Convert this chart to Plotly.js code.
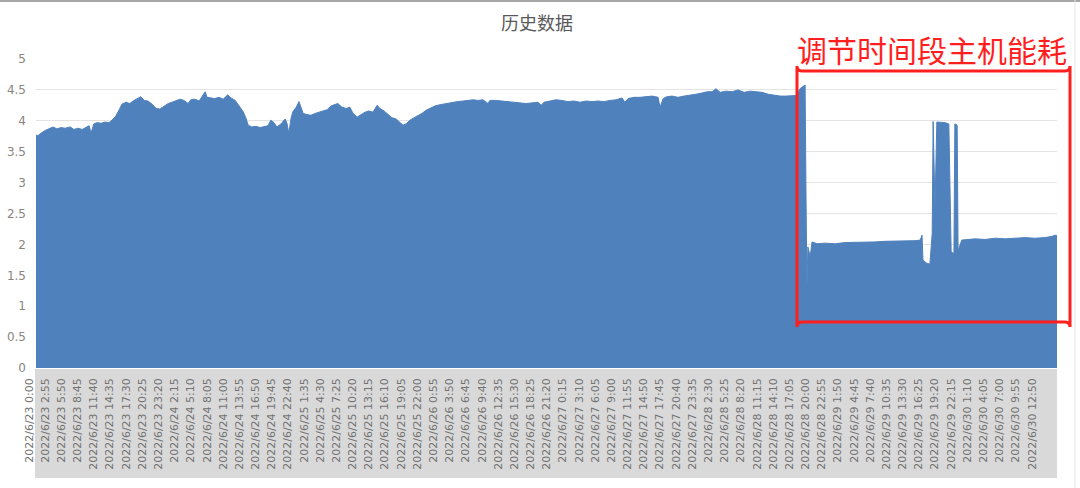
<!DOCTYPE html>
<html>
<head>
<meta charset="utf-8">
<script src="https://cdn.plot.ly/plotly-3.0.1.min.js"></script>
<style>html,body{margin:0;padding:0;background:#fff;}#chart{width:1080px;height:488px;}</style>
</head>
<body>
<div id="chart"></div>
<script>
// Tick labels (one every 35 samples of 5 minutes)
const tickLabels = [
"2022/6/23 0:00","2022/6/23 2:55","2022/6/23 5:50","2022/6/23 8:45","2022/6/23 11:40","2022/6/23 14:35","2022/6/23 17:30","2022/6/23 20:25","2022/6/23 23:20",
"2022/6/24 2:15","2022/6/24 5:10","2022/6/24 8:05","2022/6/24 11:00","2022/6/24 13:55","2022/6/24 16:50","2022/6/24 19:45","2022/6/24 22:40",
"2022/6/25 1:35","2022/6/25 4:30","2022/6/25 7:25","2022/6/25 10:20","2022/6/25 13:15","2022/6/25 16:10","2022/6/25 19:05","2022/6/25 22:00",
"2022/6/26 0:55","2022/6/26 3:50","2022/6/26 6:45","2022/6/26 9:40","2022/6/26 12:35","2022/6/26 15:30","2022/6/26 18:25","2022/6/26 21:20",
"2022/6/27 0:15","2022/6/27 3:10","2022/6/27 6:05","2022/6/27 9:00","2022/6/27 11:55","2022/6/27 14:50","2022/6/27 17:45","2022/6/27 20:40","2022/6/27 23:35",
"2022/6/28 2:30","2022/6/28 5:25","2022/6/28 8:20","2022/6/28 11:15","2022/6/28 14:10","2022/6/28 17:05","2022/6/28 20:00","2022/6/28 22:55",
"2022/6/29 1:50","2022/6/29 4:45","2022/6/29 7:40","2022/6/29 10:35","2022/6/29 13:30","2022/6/29 16:25","2022/6/29 19:20","2022/6/29 22:15",
"2022/6/30 1:10","2022/6/30 4:05","2022/6/30 7:00","2022/6/30 9:55","2022/6/30 12:50"
];
const LABEL_STEP = 35;   // samples between labels
const LAST_SAMPLE = 2209;

// Sample number (5-minute steps since 2022/6/23 0:00) and host power
const sampleIdx = [
0,4,11,19,28,37,45,54,63,74,82,91,100,108,115,119,125,132,141,149,158,167,173,180,186,195,203,212,221,227,234,242,251,260,268,277,286,294,303,312,320,329,335,344,353,361,366,370,379,387,396,405,415,422,431,439,448,454,459,467,476,485,493,502,508,515,521,530,539,543,547,552,556,563,569,573,578,586,595,604,612,621,630,638,645,653,662,671,679,686,695,703,712,720,729,738,744,753,762,770,779,788,794,801,809,818,826,835,844,852,863,874,887,900,911,924,935,946,956,967,978,982,995,1008,1021,1034,1047,1060,1073,1086,1093,1099,1112,1125,1138,1151,1164,1177,1190,1203,1216,1229,1242,1255,1268,1274,1281,1294,1307,1320,1333,1346,1350,1357,1365,1376,1389,1402,1415,1428,1441,1452,1463,1471,1480,1493,1506,1519,1532,1545,1558,1571,1584,1597,1610,1623,1636,1646,1653,1659,1664,1666,1668,1670,1675,1679,1690,1707,1729,1750,1772,1794,1815,1837,1859,1880,1902,1913,1917,1919,1926,1934,1939,1941,1945,1949,1958,1967,1975,1980,1986,1988,1993,1995,2003,2014,2032,2053,2075,2097,2118,2140,2161,2183,2198,2205,2209
];
const power = [
3.77,3.76,3.80,3.84,3.87,3.90,3.87,3.89,3.88,3.90,3.86,3.88,3.86,3.89,3.92,3.80,3.95,3.97,3.96,3.98,3.97,4.03,4.08,4.18,4.27,4.30,4.28,4.33,4.36,4.39,4.33,4.32,4.27,4.20,4.19,4.24,4.28,4.30,4.33,4.35,4.33,4.28,4.34,4.35,4.32,4.40,4.47,4.38,4.37,4.36,4.38,4.35,4.42,4.37,4.33,4.25,4.15,4.05,3.93,3.90,3.91,3.89,3.90,3.92,4.01,3.97,3.90,3.95,4.03,3.96,3.80,4.05,4.15,4.22,4.31,4.22,4.12,4.10,4.09,4.12,4.14,4.16,4.18,4.24,4.26,4.28,4.22,4.20,4.22,4.12,4.06,4.10,4.14,4.16,4.14,4.25,4.20,4.16,4.10,4.05,4.03,3.97,3.93,3.95,4.01,4.05,4.08,4.12,4.17,4.20,4.24,4.26,4.28,4.30,4.31,4.32,4.33,4.34,4.33,4.34,4.28,4.33,4.33,4.32,4.32,4.31,4.30,4.28,4.29,4.30,4.25,4.30,4.32,4.34,4.33,4.31,4.32,4.30,4.32,4.31,4.32,4.31,4.33,4.34,4.37,4.30,4.36,4.38,4.38,4.39,4.40,4.38,4.22,4.36,4.39,4.40,4.38,4.40,4.41,4.43,4.45,4.47,4.47,4.52,4.46,4.48,4.47,4.50,4.46,4.48,4.47,4.46,4.43,4.41,4.40,4.40,4.40,4.41,4.52,4.56,4.58,2.75,1.31,1.96,1.80,2.04,2.01,2.02,2.01,2.03,2.03,2.04,2.04,2.05,2.05,2.06,2.06,2.07,2.15,1.75,1.70,1.68,2.18,3.99,2.60,3.98,3.98,3.97,3.95,1.88,1.85,3.95,3.93,1.90,2.07,2.08,2.09,2.08,2.10,2.09,2.10,2.11,2.10,2.11,2.13,2.15,2.14
];

// layout geometry (pixels)
const W = 1080, H = 488;
const M = {l: 36, r: 23, t: 59, b: 120};
const PW = W - M.l - M.r, PH = H - M.t - M.b;
const px = x => (x - M.l) / PW;          // pixel x -> paper
const py = y => (H - M.b - y) / PH;      // pixel y -> paper

function roundedRectPath(x0, y0, x1, y1, r) {
  const X0 = px(x0), X1 = px(x1), Y0 = py(y0), Y1 = py(y1);
  const rx = r / PW, ry = r / PH;
  return `M ${X0 + rx},${Y0} L ${X1 - rx},${Y0} Q ${X1},${Y0} ${X1},${Y0 - ry} ` +
         `L ${X1},${Y1 + ry} Q ${X1},${Y1} ${X1 - rx},${Y1} L ${X0 + rx},${Y1} ` +
         `Q ${X0},${Y1} ${X0},${Y1 + ry} L ${X0},${Y0 - ry} Q ${X0},${Y0} ${X0 + rx},${Y0} Z`;
}

const trace = {
  x: sampleIdx, y: power, type: 'scatter', mode: 'lines',
  line: {color: '#4f81bd', width: 1, shape: 'linear'},
  fill: 'tozeroy', fillcolor: '#4f81bd', hoverinfo: 'skip'
};

const layout = {
  width: W, height: H, margin: M,
  paper_bgcolor: '#ffffff', plot_bgcolor: '#ffffff',
  showlegend: false, hovermode: false,
  title: {text: '历史数据', x: 537 / W, xref: 'container', xanchor: 'center',
          y: 1 - 24 / H, yref: 'container', yanchor: 'middle',
          font: {family: 'Noto Sans CJK SC', size: 18, color: '#595959'}},
  xaxis: {
    range: [0, LAST_SAMPLE], tickmode: 'array',
    tickvals: tickLabels.map((_, i) => i * LABEL_STEP), ticktext: tickLabels,
    tickangle: -90, ticklabelshift: -7, ticklabelstandoff: 7,
    showgrid: false, zeroline: false, showline: false, ticks: '',
    tickfont: {family: 'DejaVu Sans', size: 11, color: '#737373'}
  },
  yaxis: {
    range: [0, 5], dtick: 0.5, tick0: 0, showgrid: true, gridcolor: '#e3e3e3', gridwidth: 1,
    zeroline: false, showline: false, ticks: '', ticklabelstandoff: 9,
    tickfont: {family: 'DejaVu Sans', size: 12, color: '#8a8580'}
  },
  shapes: [
    {type: 'rect', xref: 'paper', yref: 'paper', x0: px(35), x1: px(1057), y0: py(478), y1: py(369),
     fillcolor: '#d9d9d9', line: {width: 0}, layer: 'below'},
    {type: 'line', xref: 'paper', yref: 'paper', x0: px(0), x1: px(1080), y0: py(1), y1: py(1),
     line: {color: '#a6a6a6', width: 2}},
    {type: 'line', xref: 'paper', yref: 'paper', x0: px(1075), x1: px(1075), y0: py(0), y1: py(488),
     line: {color: '#e6e6e6', width: 1}},
    {type: 'path', xref: 'paper', yref: 'paper', path: roundedRectPath(797, 322, 1070, 71, 5),
     line: {color: '#ff1f1f', width: 3}, fillcolor: 'rgba(0,0,0,0)'}
  ],
  annotations: [
    {text: '调节时间段主机能耗', xref: 'paper', yref: 'paper', x: px(932), y: py(49),
     xanchor: 'center', yanchor: 'middle', showarrow: false,
     font: {family: 'Noto Sans CJK SC', size: 30, color: '#ff1f1f'}}
  ]
};

Plotly.newPlot('chart', [trace], layout, {staticPlot: true, displayModeBar: false});
</script>
</body>
</html>
